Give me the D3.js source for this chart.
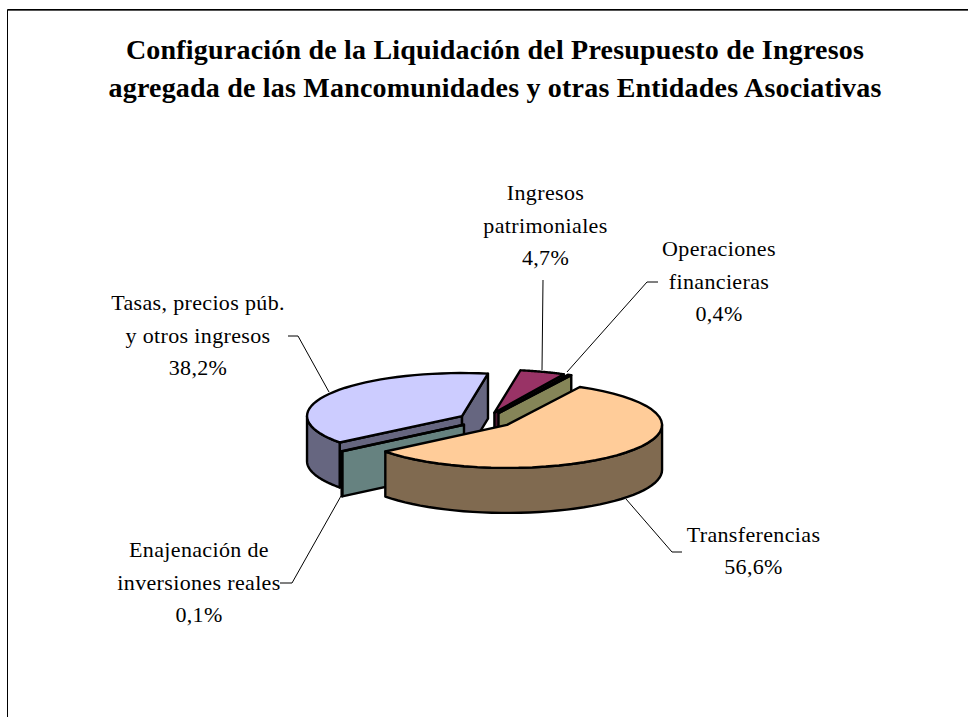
<!DOCTYPE html>
<html><head><meta charset="utf-8">
<script src="https://cdn.jsdelivr.net/npm/d3@7"></script>
<style>html,body{margin:0;padding:0;background:#fff}svg{display:block}</style>
</head><body><svg id="c" width="968" height="717"></svg>
<script>
const titleLines = ["Configuración de la Liquidación del Presupuesto de Ingresos","agregada de las Mancomunidades y otras Entidades Asociativas"];
const categories = ["Transferencias","Enajenación de inversiones reales","Tasas, precios púb. y otros ingresos","Ingresos patrimoniales","Operaciones financieras"];
const values = [56.6,0.1,38.2,4.7,0.4];
const labelLines = [["Transferencias","56,6%"],["Enajenación de","inversiones reales","0,1%"],["Tasas, precios púb.","y otros ingresos","38,2%"],["Ingresos","patrimoniales","4,7%"],["Operaciones","financieras","0,4%"]];
const topColors = ["#FFCC99","#CCFFFF","#CCCCFF","#993366","#000000"];
const sideColors = ["#806A50","#668280","#666680","#4D1A33","#858558"];
const drawOrder = [2,3,4,1,0];
const labelX = [753.5,199,198,545.5,719];
const labelY = [541.5,557,310,200,256];
const leaders = [[[626,499],[672,552],[682,552]],[[341,496],[292,583],[280,583]],[[329,392],[298,336],[288,336]],[[542,370],[543,280]],[[567,372],[647,282],[658,282]]];

const W=968,H=717,cx=485.8,cy=420,rx=155,ry=43,depth=45,explode=27.7,rot=28*Math.PI/180;
const svg=d3.select("#c");
const frame=[[7.5,H],[7.5,9.5],[W,9.5]];
svg.append("path").attr("d",d3.line()(frame)).attr("fill","none").attr("stroke","#000").attr("stroke-width",1);
svg.append("path").attr("d",d3.line()([[8,10.5],[W,10.5]])).attr("fill","none").attr("stroke","#555").attr("stroke-width",1);
const g=svg.append("g").attr("font-family","'Liberation Serif','Times New Roman',serif").attr("fill","#000").attr("text-anchor","middle");
g.selectAll(".t").data(titleLines).join("text").attr("x",495).attr("y",(d,i)=>59+i*38).attr("font-size",28).attr("letter-spacing",0.2).attr("font-weight","bold").text(d=>d);

const arcs=d3.pie().value(d=>d).sort(null).startAngle(rot).endAngle(rot+2*Math.PI)(values);
const proj=(a,r,c,dz=0)=>[c[0]+rx*r*Math.sin(a),c[1]-ry*r*Math.cos(a)+dz];
const line=d3.line();
const style=s=>s.attr("stroke","#000").attr("stroke-width",2.4).attr("stroke-linejoin","round");
drawOrder.forEach(i=>{
  const s=arcs[i],mid=(s.startAngle+s.endAngle)/2;
  const c=[cx+explode*Math.sin(mid),cy-explode*ry/rx*Math.cos(mid)];
  const a0=s.startAngle,a1=s.endAngle;
  const angles=d3.range(0,41).map(k=>a0+(a1-a0)*k/40);
  const rim=angles.map(a=>proj(a,1,c));
  const lay=g.append("g");
  const face=a=>{const p=proj(a,1,c);style(lay.append("path").attr("d",line([c,p,[p[0],p[1]+depth],[c[0],c[1]+depth]])+"Z").attr("fill",sideColors[i]));};
  if(Math.sin(a0)<0) face(a0);
  if(Math.sin(a1)>0) face(a1);
  [[Math.PI/2,3*Math.PI/2],[Math.PI/2+2*Math.PI,3*Math.PI/2+2*Math.PI]].forEach(([lo,hi])=>{
    const b0=Math.max(a0,lo),b1=Math.min(a1,hi);
    if(b1>b0){
      const as=d3.range(0,41).map(k=>b0+(b1-b0)*k/40);
      const up=as.map(a=>proj(a,1,c)),dn=as.map(a=>proj(a,1,c,depth)).reverse();
      style(lay.append("path").attr("d",line(up.concat(dn))+"Z").attr("fill",sideColors[i]));
    }
  });
  style(lay.append("path").attr("d",line([c].concat(rim))+"Z").attr("fill",topColors[i]));
});
leaders.forEach(l=>g.append("path").attr("d",line(l)).attr("fill","none").attr("stroke","#000").attr("stroke-width",1));
labelLines.forEach((ls,i)=>ls.forEach((t,j)=>g.append("text").attr("x",labelX[i]).attr("y",labelY[i]+j*32.5).attr("font-size",22).attr("letter-spacing",0.35).text(t)));
</script></body></html>
